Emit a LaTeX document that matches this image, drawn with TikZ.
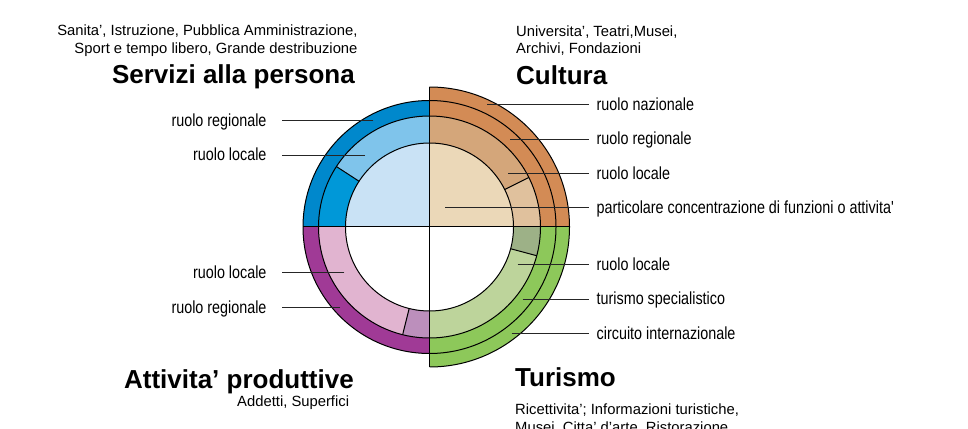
\documentclass[tikz,border=0pt]{standalone}
\usepackage{fontspec}
\setmainfont{Liberation Sans}
\newfontfamily\narrowfont[FakeStretch=0.82]{Liberation Sans}
\usetikzlibrary{calc}
\definecolor{cuDisc}{HTML}{EBD8B8}
\definecolor{cuRing}{HTML}{D4A67A}
\definecolor{cuSeg}{HTML}{E0C19D}
\definecolor{cuOut}{HTML}{D38B55}
\definecolor{tuRing}{HTML}{BDD49B}
\definecolor{tuSeg}{HTML}{9DB187}
\definecolor{tuOut}{HTML}{8DC85A}
\definecolor{seDisc}{HTML}{C9E2F5}
\definecolor{seRing}{HTML}{7FC4EB}
\definecolor{seSeg}{HTML}{0098D8}
\definecolor{seOut}{HTML}{0088CC}
\definecolor{atRing}{HTML}{E1B4D0}
\definecolor{atSeg}{HTML}{BC8FBC}
\definecolor{atOut}{HTML}{A03A96}
\newcommand{\ringseg}[5]{\fill[#1] ($(C)+(#2:#5pt)$) arc[start angle=#2,end angle=#3,radius=#5pt] -- ($(C)+(#3:#4pt)$) arc[start angle=#3,end angle=#2,radius=#4pt] -- cycle;}
\newcommand{\discseg}[4]{\fill[#1] (C) -- ($(C)+(#2:#4pt)$) arc[start angle=#2,end angle=#3,radius=#4pt] -- cycle;}
\begin{document}
\begin{tikzpicture}[x=1pt,y=1pt,
  outline/.style={line width=1pt,black},
  leader/.style={line width=0.9pt,black!85},
  lblR/.style={anchor=west,font=\narrowfont\fontsize{17.5}{20}\selectfont,inner xsep=7.5pt,inner ysep=0pt,text height=12pt,text depth=0pt},
  lblL/.style={anchor=east,font=\narrowfont\fontsize{17.5}{20}\selectfont,inner xsep=15pt,inner ysep=0pt,text height=12pt,text depth=0pt},
  titlefont/.style={font=\fontsize{26}{30}\selectfont\bfseries,inner sep=0pt},
  smallfont/.style={font=\fontsize{14.8}{18}\selectfont,inner sep=0pt}]
\fill[white] (0,0) rectangle (968,428);
\useasboundingbox (0,0) rectangle (968,428);
\coordinate (C) at (429.5,201);
% Cultura
\discseg{cuDisc}{0}{90}{84}
\ringseg{cuRing}{26.5}{90}{84}{111}
\ringseg{cuSeg}{0}{26.5}{84}{111}
\ringseg{cuOut}{0}{90}{111}{140}
% Turismo
\ringseg{tuRing}{-90}{-15}{84}{111}
\ringseg{tuSeg}{-15}{0}{84}{111}
\ringseg{tuOut}{-90}{0}{111}{140}
% Servizi
\discseg{seDisc}{90}{180}{84}
\ringseg{seRing}{90}{147}{84}{111}
\ringseg{seSeg}{147}{180}{84}{111}
\ringseg{seOut}{90}{180}{111}{126.5}
% Attivita
\ringseg{atRing}{180}{256}{84}{111}
\ringseg{atSeg}{256}{270}{84}{111}
\ringseg{atOut}{180}{270}{111}{126.5}
% outlines
\draw[outline] (C) circle[radius=84pt];
\draw[outline] (C) circle[radius=111pt];
\draw[outline] (C) circle[radius=126.5pt];
\draw[outline] ($(C)+(-90:140pt)$) arc[start angle=-90,end angle=90,radius=140pt];
\draw[outline] ($(C)+(90:140pt)$) -- ($(C)+(-90:140pt)$);
\draw[outline] ($(C)+(180:126.5pt)$) -- ($(C)+(0:140pt)$);
\draw[outline] ($(C)+(26.5:84pt)$) -- ($(C)+(26.5:111pt)$);
\draw[outline] ($(C)+(-15:84pt)$) -- ($(C)+(-15:111pt)$);
\draw[outline] ($(C)+(147:84pt)$) -- ($(C)+(147:111pt)$);
\draw[outline] ($(C)+(256:84pt)$) -- ($(C)+(256:111pt)$);
% leader start points
\coordinate (pc1) at (487,323.7);
\coordinate (pc2) at (510,289);
\coordinate (pc3) at (508.3,254.3);
\coordinate (pc4) at (445,220.5);
\coordinate (pt1) at (517.7,163.8);
\coordinate (pt2) at (522.7,129);
\coordinate (pt3) at (511.7,94.2);
\coordinate (ps1) at (373.3,307.5);
\coordinate (ps2) at (365,273);
\coordinate (pa1) at (344.3,155.5);
\coordinate (pa2) at (340,120.5);
% labels
\node[lblR] (lc1) at (589,323.7) {ruolo nazionale};
\node[lblR] (lc2) at (589,289) {ruolo regionale};
\node[lblR] (lc3) at (589,254.3) {ruolo locale};
\node[lblR] (lc4) at (589,220.5) {particolare concentrazione di funzioni o attivita'};
\node[lblR] (lt1) at (589,163.8) {ruolo locale};
\node[lblR] (lt2) at (589,129) {turismo specialistico};
\node[lblR] (lt3) at (589,94.2) {circuito internazionale};
\node[lblL] (ls1) at (281.7,307.5) {ruolo regionale};
\node[lblL] (ls2) at (281.7,273) {ruolo locale};
\node[lblL] (la1) at (281.7,155.5) {ruolo locale};
\node[lblL] (la2) at (281.7,120.5) {ruolo regionale};
\draw[leader] (pc1) -- (lc1.west);
\draw[leader] (pc2) -- (lc2.west);
\draw[leader] (pc3) -- (lc3.west);
\draw[leader] (pc4) -- (lc4.west);
\draw[leader] (pt1) -- (lt1.west);
\draw[leader] (pt2) -- (lt2.west);
\draw[leader] (pt3) -- (lt3.west);
\draw[leader] (ps1) -- (ls1.east);
\draw[leader] (ps2) -- (ls2.east);
\draw[leader] (pa1) -- (la1.east);
\draw[leader] (pa2) -- (la2.east);
% titles
\node[titlefont,anchor=base east] (tse) at (355,344.7) {Servizi alla persona};
\node[titlefont,anchor=base west] (tcu) at (516,343) {Cultura};
\node[titlefont,anchor=base east] (tat) at (354,39.7) {Attivita' produttive};
\node[titlefont,anchor=base west] (ttu) at (515,41.3) {Turismo};
% small texts
\node[smallfont,anchor=north east,align=right,font=\fontsize{14.8}{18.3}\selectfont] (sse) at (357.7,403.6) {Sanita', Istruzione, Pubblica Amministrazione,\\Sport e tempo libero, Grande destribuzione};
\node[smallfont,anchor=north west,align=left,font=\fontsize{14.8}{17.3}\selectfont] (scu) at (516,402.6) {Universita', Teatri,Musei,\\Archivi, Fondazioni};
\node[smallfont,anchor=base east] (sat) at (349.3,21.3) {Addetti, Superfici};
\node[smallfont,anchor=north west,align=left,font=\fontsize{14.8}{17.5}\selectfont] (stu) at (515,24.3) {Ricettivita'; Informazioni turistiche,\\Musei, Citta' d'arte, Ristorazione};
\end{tikzpicture}
\end{document}
